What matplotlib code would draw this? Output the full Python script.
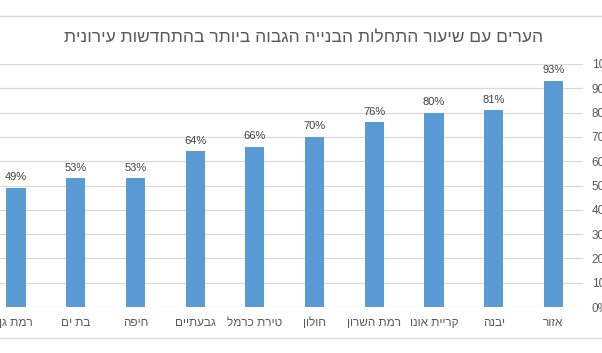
import matplotlib.pyplot as plt
from matplotlib.lines import Line2D
from matplotlib.ticker import PercentFormatter

plt.rcParams['font.family'] = ['Liberation Sans', 'DejaVu Sans']

title = "הערים עם שיעור התחלות הבנייה הגבוה ביותר בהתחדשות עירונית"
cities = ["רמת גן", "בת ים", "חיפה", "גבעתיים", "טירת כרמל",
          "חולון", "רמת השרון", "קריית אונו", "יבנה", "אזור"]
values = [0.49, 0.53, 0.53, 0.64, 0.66, 0.70, 0.76, 0.80, 0.81, 0.93]
yticks = [0, 0.1, 0.2, 0.3, 0.4, 0.5, 0.6, 0.7, 0.8, 0.9, 1.0]


def rtl(s):
    # matplotlib has no bidi support, so flip hebrew to visual order
    return s[::-1]


fig = plt.figure(figsize=(6.02, 3.53), dpi=100)
ax = fig.add_axes([-0.023, 0.1303, 0.992, 0.6884])

x = range(len(cities))
bars = ax.bar(x, values, width=0.32, color='#5b9bd5', zorder=3)
for b, v in zip(bars, values):
    ax.annotate("{0:.0%}".format(v), (b.get_x() + b.get_width() / 2, v),
                xytext=(0, 4), textcoords='offset points', ha='center',
                va='bottom', fontsize=8, color='#404040')

ax.set_xlim(-0.5, len(cities) - 0.5)
ax.set_ylim(0, 1.0)
ax.set_yticks(yticks)
ax.yaxis.set_major_formatter(PercentFormatter(1.0, decimals=0))
ax.yaxis.tick_right()
ax.set_xticks(list(x))
ax.set_xticklabels([rtl(c) for c in cities])
ax.tick_params(axis='y', length=0, pad=6, labelsize=8.5, labelcolor='#595959')
ax.tick_params(axis='x', length=0, pad=7, labelsize=8.5, labelcolor='#595959')
ax.grid(axis='y', color='#d9d9d9', linewidth=0.9, zorder=0)
for s in ax.spines.values():
    s.set_visible(False)

fig.text(0.505, 0.892, rtl(title), ha='center', va='center',
         fontsize=12.5, color='#595959')

# chart area border (only top and bottom are inside the crop)
fig.add_artist(Line2D([0, 1], [1 - 16 / 353.0] * 2, color='#d9d9d9', linewidth=1))
fig.add_artist(Line2D([0, 1], [1 - 338 / 353.0] * 2, color='#d9d9d9', linewidth=1))

fig.savefig('out.png', dpi=100)
